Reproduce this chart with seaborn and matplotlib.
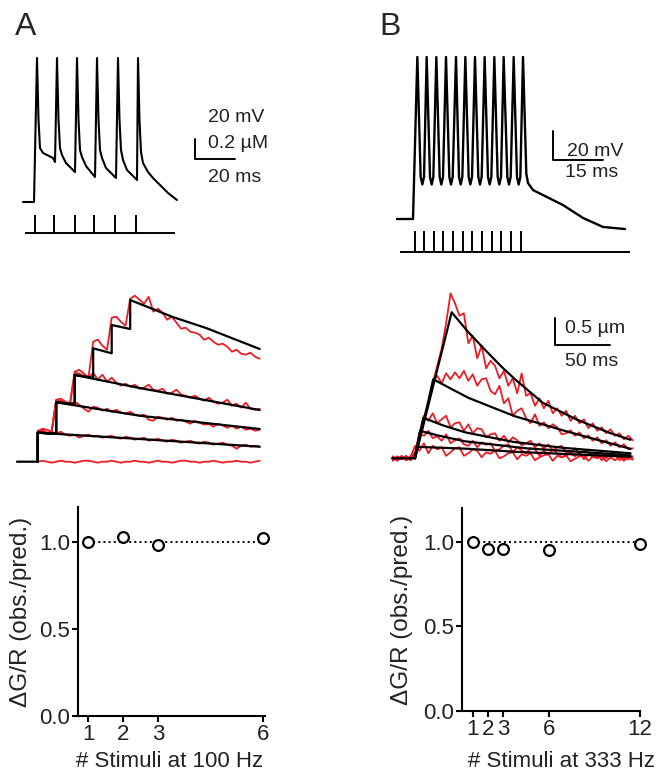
import matplotlib
matplotlib.use("Agg")
import matplotlib.pyplot as plt
import seaborn as sns

# ---------------- DATA ----------------

# A top: somatic voltage, 6 APs at 100 Hz (ms, mV)
va_t = [-6.5, -1, 0.5, 1.25, 2, 3.5, 8.5, 9.5, 10.5, 11.25, 12, 13, 15, 19.5,
        20.5, 21.25, 22, 23, 25, 29.5, 30.5, 31.25, 32, 33, 35, 40, 41, 41.75,
        42.5, 43.5, 45.5, 50.5, 51, 51.75, 52.5, 53.5, 56, 58.5, 62, 66, 70.5]
va_v = [-80, -80, 64, 2, -26, -31, -36, -40, 64, 2, -26, -33, -41, -50,
        64, 2, -28, -35, -44, -55, 64, 2, -28, -36, -46, -56, 64, 2,
        -28, -38, -48, -58, 64, 2, -30, -41, -50, -56, -63, -71, -78]
stim_a = [-0.5, 9.2, 19.5, 29.2, 39.5, 50.0]

# B top: 12 APs at 333 Hz
vb_base_t = [-4.8, 0]
vb_base_v = [-70, -70]
vb_peak_t = [1.3, 4.1, 7.0, 9.9, 12.9, 15.7, 18.6, 21.5, 24.4, 27.2, 30.2, 33.0]
vb_peak_v = [38, 38, 38, 38, 38, 38, 38, 38, 38, 38, 38, 38]
# rounded troughs between spikes: (left shoulder, bottom, right shoulder)
vb_trough_t = [[2.3, 2.8, 3.3], [5.1, 5.6, 6.1], [8.0, 8.5, 9.0],
               [10.9, 11.4, 11.9], [13.8, 14.3, 14.8], [16.7, 17.2, 17.7],
               [19.6, 20.1, 20.6], [22.5, 23.0, 23.5], [25.4, 25.9, 26.4],
               [28.3, 28.8, 29.3], [31.2, 31.7, 32.2]]
vb_trough_v = [[-42, -47, -42], [-42, -47, -42], [-42, -47, -42],
               [-42, -47, -42], [-42, -47, -42], [-42, -47, -42],
               [-42, -47, -42], [-42, -47, -42], [-42, -47, -42],
               [-42, -47, -42], [-42, -47, -42]]
vb_decay_t = [34.0, 34.5, 36, 39.6, 45, 51, 57, 63.6]
vb_decay_v = [-40, -46, -50.7, -54.7, -60.7, -69.3, -75.3, -76.7]
stim_b = [0.6, 3.4, 6.3, 9.1, 12.1, 14.9, 17.8, 20.6, 23.6, 26.4, 29.3, 32.3]

# A middle: [Ca] transients, measured (red) and predicted (black), µM
ra_t = [0, 2.5, 5, 7.5, 10, 12.5, 15, 17.5, 20, 22.5, 25, 27.5, 30, 32.5, 35,
        37.5, 40, 42.5, 45, 47.5, 50, 52.5, 55, 57.5, 60, 62.5, 65, 67.5, 70,
        72.5, 75, 77.5, 80, 82.5, 85, 87.5, 90, 92.5, 95, 97.5, 100, 102.5,
        105, 107.5, 110, 112.5, 115, 117.5, 120]
ra_0 = [0.00, 0.01, 0.00, -0.01, 0.00, 0.01, 0.00, 0.00, -0.01, 0.00,
        0.01, 0.01, 0.00, -0.01, 0.00, 0.00, 0.01, 0.00, -0.01, 0.00,
        0.00, 0.01, 0.00, 0.00, -0.01, 0.00, 0.01, 0.00, 0.00, -0.01,
        0.00, 0.01, 0.01, 0.00, 0.00, -0.01, 0.00, 0.00, 0.01, 0.00,
        -0.01, 0.00, 0.00, 0.01, 0.00, 0.00, -0.01, 0.00, 0.01]
ra_1 = [0.30, 0.33, 0.32, 0.30, 0.28, 0.30, 0.27, 0.26, 0.27, 0.24,
        0.26, 0.27, 0.25, 0.26, 0.24, 0.25, 0.26, 0.24, 0.23, 0.25,
        0.24, 0.22, 0.23, 0.24, 0.21, 0.22, 0.23, 0.21, 0.20, 0.22,
        0.21, 0.19, 0.20, 0.21, 0.19, 0.18, 0.20, 0.19, 0.17, 0.18,
        0.19, 0.17, 0.16, 0.13, 0.16, 0.17, 0.15, 0.16, 0.15]
ra_2 = [0.31, 0.30, 0.28, 0.30, 0.62, 0.63, 0.60, 0.58, 0.60, 0.57,
        0.53, 0.50, 0.55, 0.54, 0.51, 0.53, 0.50, 0.52, 0.49, 0.48,
        0.50, 0.47, 0.46, 0.47, 0.42, 0.41, 0.45, 0.44, 0.42, 0.44,
        0.41, 0.42, 0.40, 0.38, 0.41, 0.39, 0.37, 0.38, 0.35, 0.38,
        0.36, 0.34, 0.36, 0.33, 0.35, 0.32, 0.33, 0.31, 0.32]
ra_3 = [0.31, 0.32, 0.29, 0.30, 0.61, 0.60, 0.58, 0.59, 0.90, 0.92,
        0.88, 0.84, 0.89, 0.82, 0.87, 0.80, 0.84, 0.79, 0.76, 0.78,
        0.75, 0.77, 0.73, 0.74, 0.77, 0.72, 0.71, 0.73, 0.68, 0.69,
        0.72, 0.67, 0.66, 0.64, 0.66, 0.63, 0.61, 0.64, 0.60, 0.58,
        0.59, 0.62, 0.56, 0.58, 0.54, 0.59, 0.53, 0.52, 0.53]
ra_6 = [0.30, 0.31, 0.29, 0.28, 0.60, 0.61, 0.58, 0.57, 0.89, 0.88,
        0.86, 0.85, 1.20, 1.22, 1.16, 1.12, 1.44, 1.45, 1.40, 1.36,
        1.63, 1.66, 1.62, 1.58, 1.65, 1.50, 1.53, 1.49, 1.42, 1.45,
        1.39, 1.33, 1.34, 1.30, 1.29, 1.27, 1.22, 1.24, 1.20, 1.17,
        1.18, 1.15, 1.10, 1.12, 1.08, 1.07, 1.09, 1.05, 1.03]

fa1_t = [-11.2, 0, 0, 57, 120]
fa1_c = [0, 0, 0.29, 0.225, 0.15]
fa2_t = [0, 0, 10, 10, 55, 120]
fa2_c = [0, 0.29, 0.28, 0.594, 0.46, 0.327]
fa3_t = [0, 0, 10, 10, 20, 20, 55, 120]
fa3_c = [0, 0.29, 0.28, 0.594, 0.575, 0.867, 0.737, 0.517]
fa6_t = [0, 0, 10, 10, 20, 20, 30, 30, 40, 40, 50, 50, 73, 91, 120]
fa6_c = [0, 0.29, 0.28, 0.594, 0.575, 0.867, 0.84, 1.134, 1.084, 1.367,
         1.327, 1.617, 1.447, 1.337, 1.127]

# B middle
rb_t = [-20, -16, -12, -8, -4, 0, 4, 8, 12, 16, 20, 24, 28, 32, 36, 40, 44,
        48, 52, 56, 60, 64, 68, 72, 76, 80, 84, 88, 92, 96, 100, 104, 108,
        112, 116, 120, 124, 128, 132, 136, 140, 144, 148, 152, 156, 160, 164,
        168, 172, 176, 180, 184, 188, 192, 196]
rb_1 = [0.02, -0.04, 0.03, -0.03, 0.02,
        0.25, 0.15, 0.30, 0.10, 0.25, 0.18, 0.22, 0.05, 0.12, 0.20,
        0.22, 0.05, 0.10, 0.18, 0.15, 0.02, 0.12, 0.09, 0.15, 0.00,
        0.04, 0.10, 0.12, -0.02, 0.08, 0.05, 0.10, -0.04, 0.02, 0.06,
        0.08, -0.05, 0.05, 0.02, 0.06, -0.06, -0.01, 0.04, 0.05, -0.05,
        0.03, 0.00, 0.04, -0.06, 0.02, -0.04, 0.03, -0.05, 0.02, -0.03]
rb_2 = [-0.03, 0.04, -0.02, 0.03, -0.04,
        0.05, 0.50, 0.45, 0.55, 0.40, 0.44, 0.35, 0.48, 0.30, 0.36,
        0.40, 0.28, 0.25, 0.35, 0.22, 0.32, 0.27, 0.30, 0.15, 0.18,
        0.25, 0.28, 0.12, 0.22, 0.16, 0.10, 0.20, 0.18, 0.05, 0.15,
        0.08, 0.18, 0.10, 0.02, 0.06, 0.10, 0.04, 0.12, -0.02, 0.08,
        0.03, 0.10, -0.04, 0.06, 0.02, 0.08, -0.04, 0.05, -0.02, 0.04]
rb_3 = [0.04, -0.02, 0.05, -0.04, 0.01,
        0.10, 0.50, 0.85, 0.75, 0.90, 0.70, 0.78, 0.85, 0.62, 0.70,
        0.72, 0.55, 0.68, 0.50, 0.60, 0.58, 0.42, 0.48, 0.50, 0.35,
        0.45, 0.32, 0.42, 0.36, 0.26, 0.30, 0.35, 0.22, 0.30, 0.20,
        0.28, 0.15, 0.22, 0.25, 0.12, 0.10, 0.20, 0.08, 0.16, 0.12,
        0.05, 0.02, 0.12, 0.00, 0.10, 0.04, 0.10, -0.02, 0.08, 0.00]
rb_6 = [-0.05, 0.03, -0.01, 0.05, -0.03,
        0.10, 0.40, 0.75, 1.10, 1.55, 1.65, 1.50, 1.70, 1.58, 1.72,
        1.60, 1.75, 1.55, 1.68, 1.45, 1.58, 1.60, 1.35, 1.28, 1.45,
        1.10, 1.20, 0.85, 0.95, 1.00, 0.80, 0.70, 0.88, 0.65, 0.72,
        0.60, 0.68, 0.62, 0.48, 0.50, 0.56, 0.45, 0.52, 0.40, 0.46,
        0.35, 0.42, 0.30, 0.36, 0.25, 0.32, 0.22, 0.28, 0.18, 0.20]
rb_12 = [0.03, -0.05, 0.02, -0.02, 0.04,
         0.10, 0.45, 0.80, 1.10, 1.50, 1.85, 2.20, 2.70, 3.30, 3.10,
         2.85, 2.90, 2.30, 2.45, 2.00, 2.25, 1.80, 1.95, 1.85, 1.60,
         1.75, 1.45, 1.60, 1.30, 1.70, 1.25, 1.30, 1.05, 1.20, 1.00,
         1.15, 0.90, 1.00, 0.85, 0.95, 0.75, 0.85, 0.70, 0.78, 0.60,
         0.70, 0.55, 0.62, 0.50, 0.58, 0.45, 0.50, 0.38, 0.45, 0.36]

fb1_t = [-20.7, 0, 1.5, 48, 90, 194]
fb1_c = [0, 0, 0.23, 0.19, 0.13, 0.03]
fb2_t = [0, 4.5, 20, 45, 100, 194]
fb2_c = [0, 0.55, 0.46, 0.34, 0.20, 0.06]
fb3_t = [0, 7.5, 25, 45, 88, 133, 194]
fb3_c = [0, 0.81, 0.66, 0.52, 0.33, 0.21, 0.10]
fb6_t = [0, 16.5, 30, 48, 74, 90, 104, 133, 164, 194]
fb6_c = [0, 1.58, 1.42, 1.21, 0.98, 0.84, 0.75, 0.56, 0.37, 0.19]
fb12_t = [0, 33, 47.7, 63, 78, 90, 115, 146, 175, 194]
fb12_c = [0, 2.92, 2.53, 2.17, 1.83, 1.58, 1.11, 0.77, 0.51, 0.37]

# bottom: observed / predicted ratio
stim_n_a = [1, 2, 3, 6]
ratio_a = [1.00, 1.03, 0.98, 1.02]
stim_n_b = [1, 2, 3, 6, 12]
ratio_b = [1.00, 0.96, 0.96, 0.95, 0.99]

# ---------------- FIGURE ----------------

W, H = 660, 775
RED = "#ee1c25"

sns.set_theme(style="white")
plt.rcParams["font.family"] = ["Liberation Sans", "DejaVu Sans"]

fig = plt.figure(figsize=(W / 100, H / 100), dpi=100)


def px_box(l, t, r, b):
    return [l / W, 1 - b / H, (r - l) / W, (b - t) / H]


def trace(ax, x, y, color="black", lw=1.5):
    sns.lineplot(x=x, y=y, sort=False, estimator=None, color=color, lw=lw,
                 ax=ax, legend=False)


# A top
ax = fig.add_axes(px_box(15, 50, 270, 245))
trace(ax, va_t, va_v, lw=1.5)
ax.hlines(-111, -5.5, 69.5, color="black", lw=1.4)
ax.vlines(stim_a, -111, -93, color="black", lw=1.4)
ax.plot([79.5, 79.5, 99.5], [-17, -37, -37], color="black", lw=1.4)
for txt, yy in [("20 mV", 5), ("0.2 µM", -21), ("20 ms", -56)]:
    ax.text(86, yy, txt, fontsize=14, ha="left", va="center", color="#222222")
ax.set_xlim(-10.5, 117)
ax.set_ylim(-123, 72)
ax.axis("off")

# B top
vb_t = list(vb_base_t)
vb_v = list(vb_base_v)
for i in range(len(vb_peak_t)):
    vb_t.append(vb_peak_t[i])
    vb_v.append(vb_peak_v[i])
    if i < len(vb_trough_t):
        vb_t += vb_trough_t[i]
        vb_v += vb_trough_v[i]
vb_t += vb_decay_t
vb_v += vb_decay_v

ax = fig.add_axes(px_box(380, 50, 650, 262))
trace(ax, vb_t, vb_v, lw=1.7)
ax.hlines(-91.8, -3.9, 65.1, color="black", lw=1.4)
ax.vlines(stim_b, -91.8, -78, color="black", lw=1.4)
ax.plot([42, 42, 57], [-11, -31, -31], color="black", lw=1.4)
ax.text(46.2, -25, "20 mV", fontsize=14, ha="left", va="center", color="#222222")
ax.text(45.6, -39, "15 ms", fontsize=14, ha="left", va="center", color="#222222")
ax.set_xlim(-9.9, 71.1)
ax.set_ylim(-98.67, 42.67)
ax.axis("off")

# A middle
ax = fig.add_axes(px_box(10, 285, 270, 475))
for c in [ra_0, ra_1, ra_2, ra_3, ra_6]:
    trace(ax, ra_t, c, color=RED, lw=1.3)
for t, c in [(fa1_t, fa1_c), (fa2_t, fa2_c), (fa3_t, fa3_c), (fa6_t, fa6_c)]:
    trace(ax, t, c, color="black", lw=1.6)
ax.set_xlim(-14.97, 125.57)
ax.set_ylim(-0.133, 1.767)
ax.axis("off")

# B middle
ax = fig.add_axes(px_box(385, 280, 650, 475))
for c in [rb_1, rb_2, rb_3, rb_6, rb_12]:
    trace(ax, rb_t, c, color=RED, lw=1.3)
for t, c in [(fb1_t, fb1_c), (fb2_t, fb2_c), (fb3_t, fb3_c),
             (fb6_t, fb6_c), (fb12_t, fb12_c)]:
    trace(ax, t, c, color="black", lw=1.6)
ax.plot([126, 126, 175.5], [2.80, 2.27, 2.27], color="black", lw=1.4)
ax.text(135, 2.6, "0.5 µm", fontsize=14, ha="left", va="center", color="#222222")
ax.text(135, 1.946, "50 ms", fontsize=14, ha="left", va="center", color="#222222")
ax.set_xlim(-27, 211.5)
ax.set_ylim(-0.334, 3.566)
ax.axis("off")


# bottom plots
def ratio_plot(box, xs, ys, xlim, xlabel, ylab_x, xlab_xy):
    ax = fig.add_axes(px_box(*box))
    ax.hlines(1.0, xs[0], xs[-1], colors="black", linestyles=":", lw=1.4)
    sns.scatterplot(x=xs, y=ys, marker="o", s=60, facecolor="white",
                    edgecolor="black", linewidth=1.6, ax=ax, zorder=3,
                    clip_on=False)
    ax.set_xlim(*xlim)
    ax.set_ylim(0, 1.2)
    ax.set_xticks(xs)
    ax.set_yticks([0.0, 0.5, 1.0])
    ax.set_yticklabels(["0.0", "0.5", "1.0"])
    sns.despine(ax=ax)
    for s in ["left", "bottom"]:
        ax.spines[s].set_linewidth(1.5)
        ax.spines[s].set_color("black")
    ax.tick_params(bottom=True, left=True, direction="out", length=4.5,
                   width=1.5, labelsize=16, pad=1, colors="black",
                   labelcolor="#222222")
    ax.set_ylabel("ΔG/R (obs./pred.)", fontsize=17.5, color="#222222")
    ax.set_xlabel(xlabel, fontsize=16, color="#222222", va="top")
    ax.yaxis.set_label_coords(ylab_x, 0.5)
    ax.xaxis.set_label_coords(*xlab_xy)
    return ax


ratio_plot((78, 507, 265, 716), stim_n_a, ratio_a, (0.714, 6.057),
           "# Stimuli at 100 Hz", -0.246, (0.49, -0.168))
ratio_plot((462, 508, 640, 711), stim_n_b, ratio_b, (0.276, 12),
           "# Stimuli at 333 Hz", -0.275, (0.56, -0.197))

fig.text(26 / W, 1 - 27 / H, "A", fontsize=23, ha="center", va="center")
fig.text(390 / W, 1 - 27 / H, "B", fontsize=23, ha="center", va="center")

fig.savefig("out.png", dpi=100, facecolor="white")
